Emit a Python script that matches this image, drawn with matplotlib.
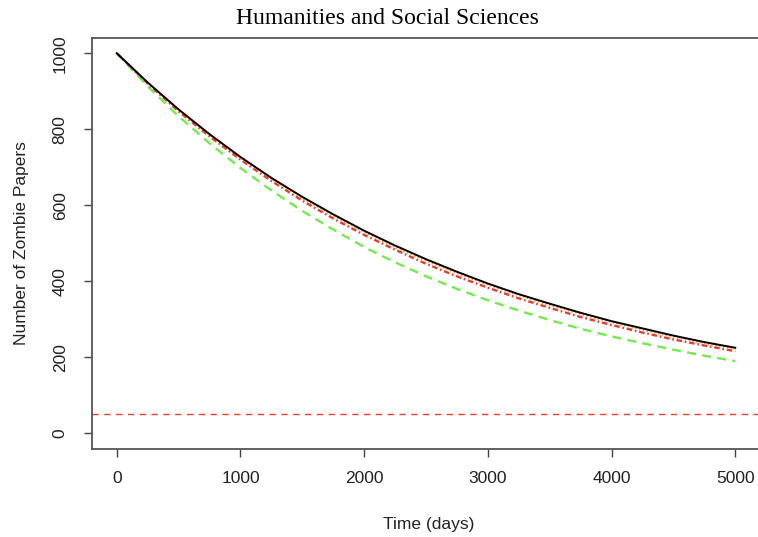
import matplotlib
matplotlib.use("Agg")
import matplotlib.pyplot as plt

days = [0, 250, 500, 750, 1000, 1250, 1500, 1750, 2000, 2250, 2500,
        2750, 3000, 3250, 3500, 3750, 4000, 4250, 4500, 4750, 5000]
black_series = [1000, 923, 852, 787, 727, 672, 622, 576, 533, 494, 458,
                425, 394, 366, 341, 317, 295, 276, 257, 240, 225]
orange_series = [1000, 922, 851, 785, 725, 670, 619, 572, 530, 490, 454,
                 421, 391, 363, 337, 314, 292, 272, 254, 237, 222]
red_series = [1000, 920, 847, 781, 720, 664, 612, 565, 522, 483, 446,
              413, 383, 355, 330, 306, 285, 265, 247, 231, 216]
green_series = [1000, 913, 834, 763, 698, 639, 585, 536, 490, 450, 413,
                380, 350, 323, 298, 275, 255, 237, 220, 204, 190]
threshold = 50
xticks = [0, 1000, 2000, 3000, 4000, 5000]
yticks = [0, 200, 400, 600, 800, 1000]

plt.rcParams['font.family'] = ['Liberation Sans', 'DejaVu Sans']
plt.rcParams['lines.scale_dashes'] = False

fig = plt.figure(figsize=(7.58, 5.37), dpi=100)
W, H = 758, 537
ax = fig.add_axes([92 / W, (H - 448.5) / H, (765 - 92) / W, (448.5 - 38) / H])

ax.plot(days, green_series, color='#72ec4c', lw=1.7, linestyle=(0, (6.5, 4.5)))
ax.plot(days, red_series, color='#ee3b2a', lw=1.7, linestyle=(0, (4, 2, 1.2, 2)))
ax.plot(days, orange_series, color='#f0a020', lw=1.4, linestyle=(0, (1, 1.8)))
ax.plot(days, black_series, color='black', lw=1.4)
ax.axhline(threshold, color='#ee3b2a', lw=1.0, linestyle=(0, (4.5, 4)))

ax.set_xlim(-200, -200 + 5400 * (765 - 92) / (760 - 92))
ax.set_ylim(-40, 1040)
ax.set_xticks(xticks)
ax.set_yticks(yticks)
ax.set_yticklabels([str(v) for v in yticks], rotation=90, va='center')
ax.tick_params(axis='both', length=5.5, width=1.0, color='#444444',
               labelsize=12.5, labelcolor='#222222')
ax.tick_params(axis='x', pad=11)
ax.tick_params(axis='y', pad=12)
for s in ax.spines.values():
    s.set_color('#555555')
    s.set_linewidth(1.3)
ax.spines['right'].set_visible(False)

ax.set_xlabel('Time (days)', fontsize=12.5, color='#222222', labelpad=22)
ax.set_ylabel('Number of Zombie Papers', fontsize=12.5, color='#222222', labelpad=17)
fig.text(387 / W, 1 - 19 / H, 'Humanities and Social Sciences',
         family='Liberation Serif', fontsize=17, ha='center', va='center')

fig.savefig('out.png', dpi=100)
